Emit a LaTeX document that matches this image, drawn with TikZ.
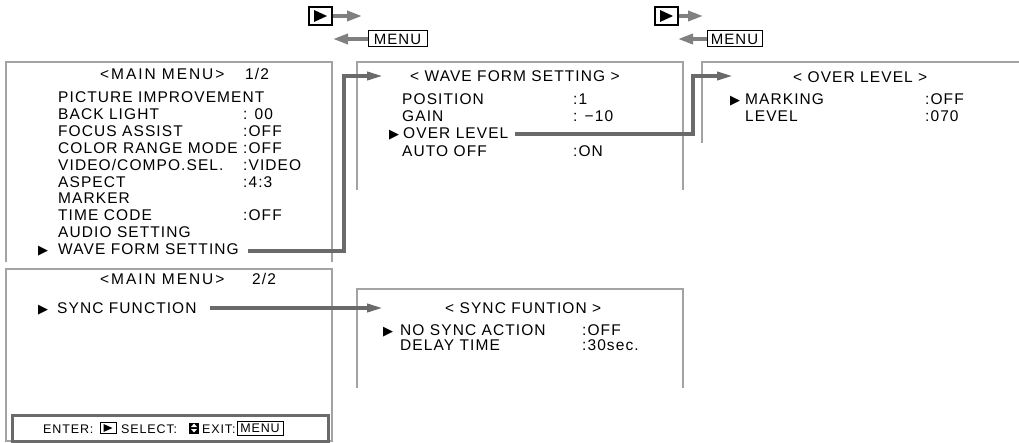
\documentclass[tikz,border=0pt]{standalone}
\usepackage{fontspec}
\setmainfont{Liberation Sans}[LetterSpace=7]
\newfontfamily\symfont{DejaVu Sans}
\newfontfamily\widefont{Liberation Sans}[LetterSpace=12.5]
\usetikzlibrary{arrows.meta}
\definecolor{boxgray}{HTML}{A3A3A3}
\definecolor{conngray}{HTML}{6A6A6A}
\definecolor{leggray}{HTML}{808080}
\tikzset{
  menubox/.style={draw=boxgray, line width=1.6pt},
  txt/.style={anchor=base west, inner sep=0pt, font=\fontsize{15.5}{17}\selectfont},
  wtxt/.style={anchor=base west, inner sep=0pt, font=\widefont\fontsize{15.5}{17}\selectfont},
  etxt/.style={anchor=base west, inner sep=0pt, font=\fontsize{12.5}{14}\selectfont},
  tri/.style={anchor=base west, inner sep=0pt, font=\symfont\fontsize{13}{14}\selectfont},
  conn/.style={draw=conngray, line width=3.5pt, -{Triangle[length=16pt,width=8pt]}},
  legarrow/.style={draw=leggray, line width=3.5pt, -{Triangle[length=15pt,width=10pt]}},
  keybox/.style={draw=black, line width=2pt, minimum width=23pt, minimum height=18pt, inner sep=0pt},
  menukey/.style={draw=black, line width=1pt, inner sep=0pt, minimum height=16pt, font=\fontsize{15}{17}\selectfont},
  enterframe/.style={draw=conngray, line width=3pt},
}
\begin{document}
\begin{tikzpicture}[x=1pt,y=-1pt]
\useasboundingbox (0,0) rectangle (1019,443);

% ---- legends
\node[keybox] (L1) at (320.5,16) {};
\fill (L1.center) ++(-6.5,-6) -- ++(13,6) -- ++(-13,6) -- cycle;
\coordinate (L1e) at (362,16);
\draw[legarrow] (L1.east) -- (L1e);
\node[menukey, minimum width=59pt] (M1) at (397.5,39) {MENU};
\coordinate (M1e) at (333,39);
\draw[legarrow] (M1.west) -- (M1e);

\node[keybox] (L2) at (666.5,16) {};
\fill (L2.center) ++(-6.5,-6) -- ++(13,6) -- ++(-13,6) -- cycle;
\coordinate (L2e) at (703,16);
\draw[legarrow] (L2.east) -- (L2e);
\node[menukey, minimum width=55pt] (M2) at (734.5,39) {MENU};
\coordinate (M2e) at (678,39);
\draw[legarrow] (M2.west) -- (M2e);

% ---- frames
\draw[menubox] (6,262) -- (6,62) -- (332,62) -- (332,262);
\draw[menubox] (6,269) rectangle (332,441);
\draw[menubox] (357,190) -- (357,62) -- (683,62) -- (683,190);
\draw[menubox] (702,143) -- (702,62) -- (1019,62);
\draw[menubox] (357,388) -- (357,289) -- (683,289) -- (683,388);
\draw[enterframe] (12,415) rectangle (328,441);

% ---- main menu 1/2
\node[wtxt] (mm1t) at (100,80) {<MAIN MENU>};
\node[txt] (mm1p) at (245,80) {1/2};
\node[txt] (a1) at (58,103) {PICTURE IMPROVEMENT};
\node[txt] (a2) at (58,120) {BACK LIGHT};
\node[txt] (a2v) at (243,120) {: 00};
\node[txt] (a3) at (58,137) {FOCUS ASSIST};
\node[txt] (a3v) at (243,137) {:OFF};
\node[txt] (a4) at (58,154) {COLOR RANGE MODE};
\node[txt] (a4v) at (243,154) {:OFF};
\node[txt] (a5) at (58,171) {VIDEO/COMPO.SEL.};
\node[txt] (a5v) at (243,171) {:VIDEO};
\node[txt] (a6) at (58,188) {ASPECT};
\node[txt] (a6v) at (243,188) {:4:3};
\node[txt] (a7) at (58,204) {MARKER};
\node[txt] (a8) at (58,221) {TIME CODE};
\node[txt] (a8v) at (243,221) {:OFF};
\node[txt] (a9) at (58,238) {AUDIO SETTING};
\node[tri] (a10m) at (38,255) {▶};
\node[txt] (a10) at (58,255) {WAVE FORM SETTING};

% ---- main menu 2/2
\node[wtxt] (mm2t) at (100,285) {<MAIN MENU>};
\node[txt] (mm2p) at (252,285) {2/2};
\node[tri] (b1m) at (38,313) {▶};
\node[txt] (b1) at (57,313) {SYNC FUNCTION};

% ---- enter line
\node[etxt] (e1) at (43,433) {ENTER:};
\node[draw=black, line width=0.8pt, minimum width=16pt, minimum height=11pt, inner sep=0pt] (e2) at (108,428) {};
\fill (e2.center) ++(-4.5,-4) -- ++(9,4) -- ++(-9,4) -- cycle;
\node[etxt] (e3) at (121,433) {SELECT:};
\node[fill=black, minimum width=10pt, minimum height=11pt, inner sep=0pt] (e4) at (194,428) {};
\fill[white] (e4.center) ++(-3,-1) -- ++(3,-3.5) -- ++(3,3.5) -- cycle;
\fill[white] (e4.center) ++(-3,1) -- ++(3,3.5) -- ++(3,-3.5) -- cycle;
\node[etxt] (e5) at (202,433) {EXIT:};
\node[draw=black, line width=0.8pt, minimum width=46pt, minimum height=14pt, inner sep=0pt, font=\fontsize{12.5}{14}\selectfont] (e6) at (260,428) {MENU};

% ---- wave form setting
\node[txt] (wt) at (410,82) {< WAVE FORM SETTING >};
\node[txt] (w1) at (402,105) {POSITION};
\node[txt] (w1v) at (573,105) {:1};
\node[txt] (w2) at (402,122) {GAIN};
\node[txt] (w2v) at (573,122) {: −10};
\node[tri] (w3m) at (389,139) {▶};
\node[txt] (w3) at (403,139) {OVER LEVEL};
\node[txt] (w4) at (402,157) {AUTO OFF};
\node[txt] (w4v) at (573,157) {:ON};

% ---- over level
\node[txt] (ot) at (793,83) {< OVER LEVEL >};
\node[tri] (o1m) at (730,105) {▶};
\node[txt] (o1) at (745,105) {MARKING};
\node[txt] (o1v) at (925,105) {:OFF};
\node[txt] (o2) at (745,122) {LEVEL};
\node[txt] (o2v) at (925,122) {:070};

% ---- sync function
\node[txt] (st) at (445,313) {< SYNC FUNTION >};
\node[tri] (s1m) at (383,335) {▶};
\node[txt] (s1) at (400,335) {NO SYNC ACTION};
\node[txt] (s1v) at (582,335) {:OFF};
\node[txt] (s2) at (400,350) {DELAY TIME};
\node[txt] (s2v) at (582,350) {:30sec.};

% ---- connectors
\coordinate (c1s) at (248,251);
\coordinate (c1e) at (383,76);
\draw[conn] (c1s) -- (344,251) |- (c1e);
\coordinate (c2s) at (515,134);
\coordinate (c2e) at (733,76);
\draw[conn] (c2s) -- (693,134) |- (c2e);
\coordinate (c3s) at (210,308);
\coordinate (c3e) at (383,308);
\draw[conn] (c3s) -- (c3e);
\end{tikzpicture}
\end{document}
